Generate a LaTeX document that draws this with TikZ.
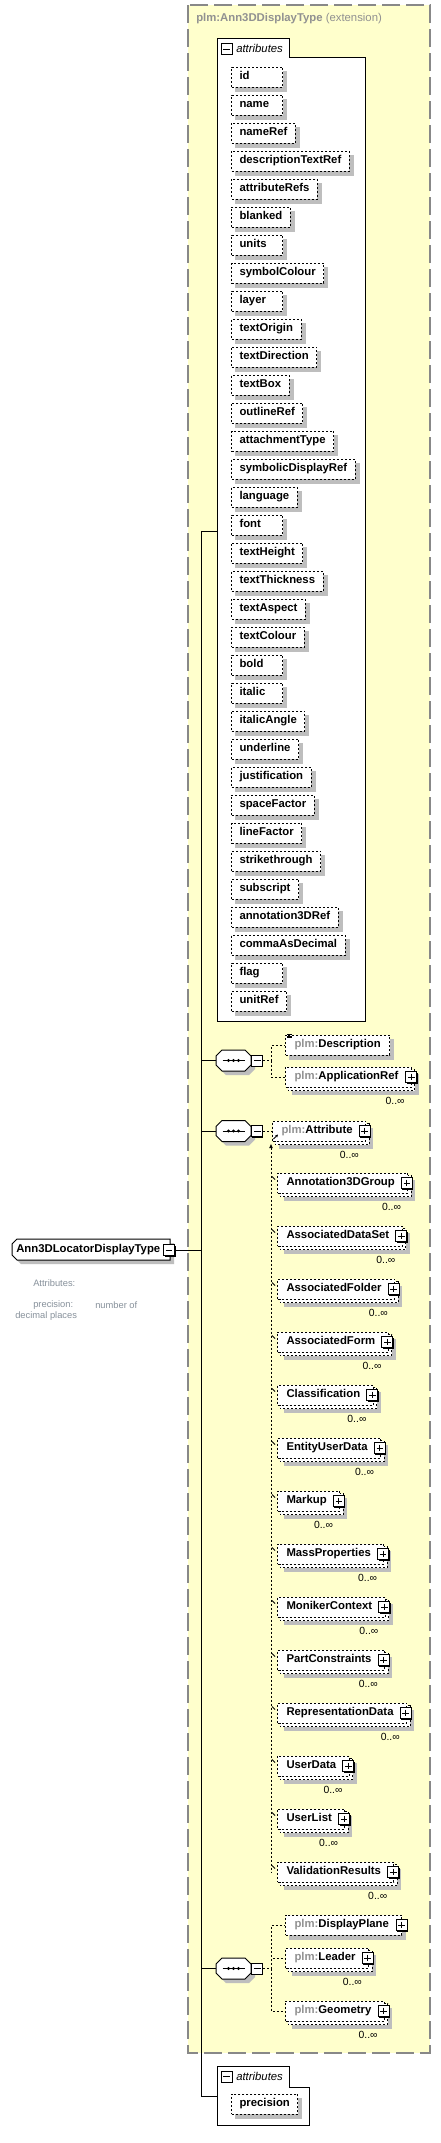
\documentclass[tikz,border=0pt]{standalone}
\usepackage{fontspec}
\setmainfont{Liberation Sans}
\usetikzlibrary{calc,arrows.meta}
\definecolor{ylw}{RGB}{255,255,204}
\definecolor{shd}{RGB}{190,190,190}
\definecolor{extgray}{RGB}{136,136,136}
\definecolor{pfx}{RGB}{145,145,145}
\definecolor{notec}{RGB}{135,145,155}
\tikzset{
  x=0.75pt, y=-0.75pt,
  every node/.style={font=\fontsize{8.5pt}{10pt}\selectfont\bfseries},
  dsh/.style={dash pattern=on 1.5pt off 1.5pt},
  conn/.style={line width=0.75pt},
  attrbox/.style={draw, dsh, fill=white, line width=0.75pt, anchor=west, inner xsep=6pt, inner ysep=0pt,
    minimum height=15pt, text height=6.3pt, text depth=1.9pt},
  elbox/.style={draw, dsh, fill=white, line width=0.75pt, anchor=west, inner xsep=6.75pt, inner ysep=0pt,
    minimum height=15pt, text height=6.3pt, text depth=1.9pt},
  minusbox/.style={draw, solid, fill=white, line width=0.75pt, minimum size=8.25pt, inner sep=0pt,
    path picture={\draw[line width=0.75pt] ([xshift=1.6pt]path picture bounding box.west) -- ([xshift=-1.6pt]path picture bounding box.east);}},
  plusbox/.style={minusbox,
    path picture={\draw[line width=0.75pt] ([xshift=1.6pt]path picture bounding box.west) -- ([xshift=-1.6pt]path picture bounding box.east)
      ([yshift=-1.6pt]path picture bounding box.north) -- ([yshift=1.6pt]path picture bounding box.south);}},
  cardi/.style={anchor=east, inner sep=0pt, font=\fontsize{7.8pt}{9pt}\selectfont\mdseries},
  notetxt/.style={anchor=west, inner sep=0pt, text=notec, font=\fontsize{7pt}{8pt}\selectfont\mdseries},
  hdr/.style={anchor=west, inner sep=0pt, font=\fontsize{8.5pt}{10pt}\selectfont\mdseries\itshape},
  seqnode/.style={minimum width=26.25pt, minimum height=15.75pt, inner sep=0pt, draw=none},
}
\newcommand\MinW[1]{\sbox0{#1}\ifdim\wd0<26.25pt\makebox[26.25pt][l]{#1}\else#1\fi}
% single box with shadow: name, style, x, y, text
\newcommand\MkSingle[5]{%
  \node[#2, draw=none, fill=none] (#1s) at (#3,#4) {\phantom{#5}};
  \fill[shd] ([shift={(4,4)}]#1s.north west) rectangle ([shift={(4,4)}]#1s.south east);
  \node[#2] (#1) at (#3,#4) {#5};}
% multiple-occurrence box
\newcommand\MkMulti[5]{%
  \node[#2, draw=none, fill=none] (#1s) at (#3,#4) {\phantom{#5}};
  \fill[shd] ([shift={(7,7)}]#1s.north west) rectangle ([shift={(7,7)}]#1s.south east);
  \draw[dsh, line width=0.75pt, fill=white] ([shift={(3,3)}]#1s.north west) rectangle ([shift={(3,3)}]#1s.south east);
  \node[#2] (#1) at (#3,#4) {#5};}
\newcommand\PlusOf[2]{%
  \coordinate (#1pc) at ([xshift=#2]#1.east);
  \fill ([shift={(-4.5,-4.5)}]#1pc) rectangle ([shift={(6.5,6.5)}]#1pc);
  \node[plusbox] (#1p) at (#1pc) {};}
\newcommand\SeqBox[3]{%
  \fill[shd] (#2-11.5+4,#3-10.5+4) -- (#2+11.5+4,#3-10.5+4) -- (#2+17.5+4,#3-4.5+4) -- (#2+17.5+4,#3+4.5+4)
    -- (#2+11.5+4,#3+10.5+4) -- (#2-11.5+4,#3+10.5+4) -- (#2-17.5+4,#3+4.5+4) -- (#2-17.5+4,#3-4.5+4) -- cycle;
  \draw[line width=0.75pt, fill=white] (#2-11.5,#3-10.5) -- (#2+11.5,#3-10.5) -- (#2+17.5,#3-4.5) -- (#2+17.5,#3+4.5)
    -- (#2+11.5,#3+10.5) -- (#2-11.5,#3+10.5) -- (#2-17.5,#3+4.5) -- (#2-17.5,#3-4.5) -- cycle;
  \draw[line width=0.75pt] (#2-11,#3) -- (#2+11,#3);
  \fill (#2-5,#3) circle (1.6) (#2,#3) circle (1.6) (#2+5,#3) circle (1.6);
  \node[seqnode] (#1) at (#2,#3) {};
  \fill (#2+17.5+1,#3-5.5+1) rectangle (#2+17.5+12,#3+5.5+1);
  \node[minusbox, anchor=west] (#1m) at (#1.east) {};
}
\begin{document}
\begin{tikzpicture}
\useasboundingbox (0,0) rectangle (441,2143);
\fill[white] (0,0) rectangle (441,2143);
% extension frame
\draw[extgray, line width=1.1pt, dash pattern=on 13.5pt off 4.5pt, fill=ylw] (188,5) rectangle (430,2053);
\node[anchor=west, inner sep=0pt, text=pfx] (ext) at (196,19) {plm:Ann3DDisplayType {\mdseries (extension)}};

% attributes box (inherited)
\draw[line width=0.75pt, fill=white] (217,38) -- (289,38) -- (289,57) -- (365,57) -- (365,1021) -- (217,1021) -- cycle;
\node[minusbox] (attm) at (226.5,49) {};
\node[hdr] (atth) at (236,48) {attributes};
\coordinate (attA) at (217,531);

\foreach \n [count=\i from 0] in {id,name,nameRef,descriptionTextRef,attributeRefs,blanked,units,symbolColour,layer,textOrigin,textDirection,textBox,outlineRef,attachmentType,symbolicDisplayRef,language,font,textHeight,textThickness,textAspect,textColour,bold,italic,italicAngle,underline,justification,spaceFactor,lineFactor,strikethrough,subscript,annotation3DRef,commaAsDecimal,flag,unitRef} {
  \MkSingle{a\i}{attrbox}{231}{77+28*\i}{\MinW{\n}}
}

% root
\fill[shd] (17+4,1239+4) -- (170+4,1239+4) -- (170+4,1260+4) -- (17+4,1260+4) -- (12+4,1255+4) -- (12+4,1244+4) -- cycle;
\draw[line width=0.75pt, fill=white] (17,1239) -- (170,1239) -- (170,1260) -- (17,1260) -- (12,1255) -- (12,1244) -- cycle;
\node[anchor=west, inner xsep=0pt] (root) at (16,1249.5) {Ann3DLocatorDisplayType};
\fill (164.5,1245.5) rectangle (175.5,1256.5);
\node[minusbox] (rootm) at (169,1250) {};
\node[notetxt] (n1) at (33,1283) {Attributes:};
\node[notetxt] (n2) at (33,1305) {precision:};
\node[notetxt] (n3) at (95,1305) {number of};
\node[notetxt] (n4) at (15,1316) {decimal places};

% trunk
\coordinate (tk) at (201.5,531);
\coordinate (attB) at (217,2096);
\draw[conn] (rootm.east) -- (rootm.east -| tk);
\draw[conn] (tk) -- (attA);
\draw[conn] (tk) |- (attB);

% sequence 1
\SeqBox{sa}{233.5}{1060.5}
\draw[conn] (sa.west -| tk) -- (sa.west);
\MkSingle{desc}{elbox}{285}{1045}{{\color{pfx}plm:}Description}
\foreach \k in {0,2,4} \draw[line width=0.5pt] ([xshift=1.5pt,yshift=-\k*0.5pt]desc.north west) -- ++(4.5,0);
\MkMulti{appref}{elbox}{285}{1077}{{\color{pfx}plm:}ApplicationRef\hspace*{3pt}}
\PlusOf{appref}{-0.5pt}
\node[cardi] (apprefc) at ($(appref.south east)+(-7,13.5)$) {0..∞};
\draw[conn, dsh] (sam.east) -- ++(8,0) |- (desc.west);
\draw[conn, dsh] (sam.east) -- ++(8,0) |- (appref.west);

% sequence 2
\SeqBox{sb}{233.5}{1131}
\draw[conn] (sb.west -| tk) -- (sb.west);
\MkMulti{attr}{elbox}{272}{1131}{{\color{pfx}plm:}Attribute\hspace*{3pt}}
\PlusOf{attr}{-1pt}
\node[cardi] (attrc) at ($(attr.south east)+(-7,13.5)$) {0..∞};
\draw[conn, dsh] (sbm.east) -- (attr.west);
\draw[line width=0.6pt, -{Stealth[length=2.2pt,width=2.2pt]}] ($(attr.south west)+(1.5,-2.5)$) -- ++(4.5,-4.5);

\foreach \nm [count=\k from 0] in {Annotation3DGroup,AssociatedDataSet,AssociatedFolder,AssociatedForm,Classification,EntityUserData,Markup,MassProperties,MonikerContext,PartConstraints,RepresentationData,UserData,UserList,ValidationResults} {
  \MkMulti{m\k}{elbox}{277}{1183+53*\k}{\nm\hspace*{3pt}}
  \PlusOf{m\k}{-1pt}
  \node[cardi] (m\k c) at ($(m\k.south east)+(-7,13.5)$) {0..∞};
}
\coordinate (sgtop) at ($(attr.south west)+(-1,2)$);
\draw[conn, dsh, {Latex[length=3.5pt,width=3pt]}-] (sgtop) -- (sgtop |- m13.west);
\foreach \k in {0,...,13} \draw[line width=0.6pt] ($(sgtop |- m\k.north west)+(1,4)$) -- ++(3,3);

% sequence 3
\SeqBox{sc}{233.5}{1968.5}
\draw[conn] (sc.west -| tk) -- (sc.west);
\MkSingle{dplane}{elbox}{285}{1925}{{\color{pfx}plm:}DisplayPlane\hspace*{3pt}}
\PlusOf{dplane}{-0.5pt}
\MkMulti{leader}{elbox}{285}{1958}{{\color{pfx}plm:}Leader\hspace*{3pt}}
\PlusOf{leader}{-1pt}
\node[cardi] (leaderc) at ($(leader.south east)+(-7,13.5)$) {0..∞};
\MkMulti{geom}{elbox}{285}{2011}{{\color{pfx}plm:}Geometry\hspace*{3pt}}
\PlusOf{geom}{-1pt}
\node[cardi] (geomc) at ($(geom.south east)+(-7,13.5)$) {0..∞};
\draw[conn, dsh] (scm.east) -- ++(8,0) |- (dplane.west);
\draw[conn, dsh] (scm.east) -- ++(8,0) |- (leader.west);
\draw[conn, dsh] (scm.east) -- ++(8,0) |- (geom.west);

% own attributes box
\draw[line width=0.75pt, fill=white] (217,2066) -- (289,2066) -- (289,2087) -- (309,2087) -- (309,2125) -- (217,2125) -- cycle;
\node[minusbox] (att2m) at (226.5,2076.5) {};
\node[hdr] (att2h) at (236,2076) {attributes};
\MkSingle{prec}{attrbox}{231}{2104}{\MinW{precision}}
\end{tikzpicture}
\end{document}
